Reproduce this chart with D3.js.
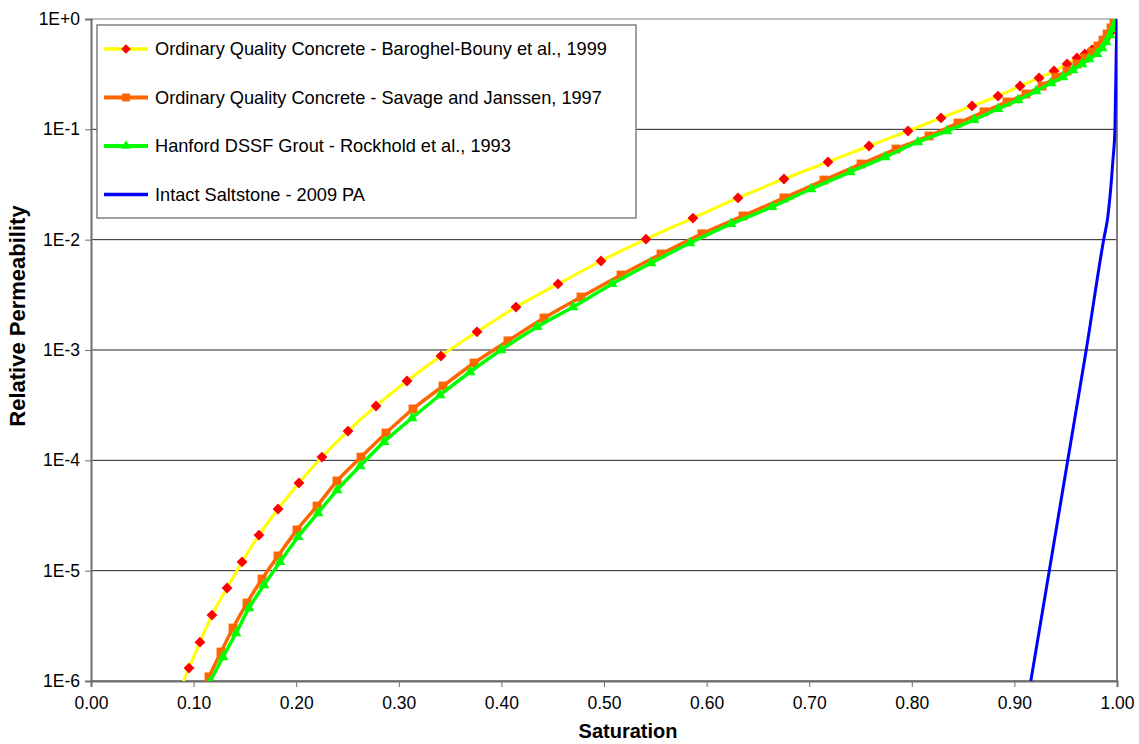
<!DOCTYPE html>
<html>
<head>
<meta charset="utf-8">
<script src="https://cdn.jsdelivr.net/npm/d3@7"></script>
<style>
  body { margin: 0; background: #fff; }
  text { font-family: "Liberation Sans", Arial, sans-serif; }
</style>
</head>
<body>
<div id="chart"></div>
<script>
// Saturation / relative permeability pairs
const baroghelS = [0.0848, 0.0955, 0.1062, 0.1179, 0.1326, 0.1472, 0.1637, 0.1823, 0.2027, 0.2251, 0.2505, 0.2778, 0.3080, 0.3411, 0.3762, 0.4142, 0.4552, 0.4971, 0.5409, 0.5867, 0.6306, 0.6754, 0.7183, 0.7583, 0.7963, 0.8285, 0.8587, 0.8840, 0.9055, 0.9240, 0.9386, 0.9513, 0.9610, 0.9688, 0.9756, 0.9805, 0.9844, 0.9883, 0.9912, 0.9942, 0.9961, 0.9981, 1.0];
const baroghelK = [7.6e-7, 1.31e-6, 2.25e-6, 3.96e-6, 6.97e-6, 1.20e-5, 2.10e-5, 3.62e-5, 6.23e-5, 1.07e-4, 1.84e-4, 3.11e-4, 5.24e-4, 8.82e-4, 1.46e-3, 2.45e-3, 3.97e-3, 6.41e-3, 1.01e-2, 1.57e-2, 2.39e-2, 3.55e-2, 5.06e-2, 7.06e-2, 9.66e-2, 0.127, 0.163, 0.200, 0.247, 0.292, 0.338, 0.391, 0.443, 0.482, 0.524, 0.557, 0.593, 0.645, 0.701, 0.762, 0.829, 0.901, 1.0];

const savageS = [0.1040, 0.1150, 0.1267, 0.1384, 0.1520, 0.1667, 0.1823, 0.2008, 0.2203, 0.2398, 0.2632, 0.2875, 0.3138, 0.3431, 0.3733, 0.4064, 0.4415, 0.4776, 0.5166, 0.5556, 0.5955, 0.6355, 0.6754, 0.7144, 0.7505, 0.7846, 0.8168, 0.8450, 0.8704, 0.8928, 0.9113, 0.9269, 0.9405, 0.9513, 0.9610, 0.9688, 0.9756, 0.9815, 0.9864, 0.9903, 0.9942, 0.9971, 1.0];
const savageK = [6.5e-7, 1.09e-6, 1.83e-6, 3.02e-6, 5.09e-6, 8.40e-6, 1.36e-5, 2.34e-5, 3.85e-5, 6.50e-5, 1.07e-4, 1.77e-4, 2.92e-4, 4.72e-4, 7.62e-4, 1.21e-3, 1.95e-3, 3.02e-3, 4.78e-3, 7.41e-3, 1.13e-2, 1.64e-2, 2.39e-2, 3.47e-2, 4.85e-2, 6.63e-2, 8.71e-2, 0.114, 0.144, 0.177, 0.209, 0.247, 0.298, 0.338, 0.391, 0.443, 0.502, 0.569, 0.645, 0.731, 0.829, 0.920, 1.0];

const hanfordS = [0.1050, 0.1160, 0.1287, 0.1413, 0.1540, 0.1686, 0.1842, 0.2018, 0.2212, 0.2398, 0.2622, 0.2856, 0.3129, 0.3402, 0.3694, 0.3996, 0.4347, 0.4698, 0.5078, 0.5458, 0.5838, 0.6238, 0.6637, 0.7018, 0.7398, 0.7739, 0.8060, 0.8343, 0.8606, 0.8840, 0.9035, 0.9211, 0.9357, 0.9474, 0.9571, 0.9659, 0.9727, 0.9805, 0.9854, 0.9893, 0.9932, 0.9961, 0.9981, 1.0];
const hanfordK = [5.8e-7, 9.8e-7, 1.65e-6, 2.72e-6, 4.59e-6, 7.41e-6, 1.20e-5, 2.02e-5, 3.33e-5, 5.38e-5, 8.88e-5, 1.47e-4, 2.42e-4, 3.91e-4, 6.32e-4, 1.0e-3, 1.62e-3, 2.45e-3, 3.97e-3, 6.14e-3, 9.33e-3, 1.39e-2, 1.98e-2, 2.88e-2, 4.10e-2, 5.61e-2, 7.68e-2, 9.66e-2, 0.122, 0.153, 0.184, 0.222, 0.263, 0.298, 0.345, 0.391, 0.434, 0.482, 0.546, 0.619, 0.716, 0.812, 0.901, 1.0];

const saltstoneS = [0.916, 0.934, 0.952, 0.970, 0.987, 0.991, 0.996, 0.998, 0.9993, 1.0];
const saltstoneK = [1e-6, 1e-5, 1e-4, 1e-3, 1e-2, 1.6e-2, 5.2e-2, 0.102, 0.52, 1.0];

const seriesNames = [
  "Ordinary Quality Concrete - Baroghel-Bouny et al., 1999",
  "Ordinary Quality Concrete - Savage and Janssen, 1997",
  "Hanford DSSF Grout - Rockhold et al., 1993",
  "Intact Saltstone - 2009 PA"
];

const yTicks = [1, 1e-1, 1e-2, 1e-3, 1e-4, 1e-5, 1e-6];
const yTickLabels = ["1E+0", "1E-1", "1E-2", "1E-3", "1E-4", "1E-5", "1E-6"];
const xTicks = [0, 0.1, 0.2, 0.3, 0.4, 0.5, 0.6, 0.7, 0.8, 0.9, 1.0];

const margin = {top: 19, right: 22, bottom: 63, left: 91},
    width = 1139 - margin.left - margin.right,
    height = 744 - margin.top - margin.bottom;

const svg = d3.select("#chart").append("svg")
    .attr("width", 1139)
    .attr("height", 744)
  .append("g")
    .attr("transform", `translate(${margin.left},${margin.top})`);

const x = d3.scaleLinear().domain([0, 1]).range([0, width]);
const y = d3.scaleLog().domain([1e-6, 1]).range([height, 0]);

// horizontal gridlines at every decade
svg.selectAll(".grid")
    .data(yTicks)
  .enter().append("line")
    .attr("x1", 0).attr("x2", width)
    .attr("y1", d => y(d)).attr("y2", d => y(d))
    .attr("stroke", d => d === 1 ? "#808080" : "#222")
    .attr("stroke-width", 1);

// right border of plot area
svg.append("line")
    .attr("x1", width).attr("x2", width)
    .attr("y1", 0).attr("y2", height)
    .attr("stroke", "#808080").attr("stroke-width", 2);

// axes
const yAxis = svg.append("g")
    .call(d3.axisLeft(y).tickValues(yTicks).tickFormat((d, i) => yTickLabels[i]).tickSizeOuter(0).tickSize(6).tickPadding(5));
const xAxis = svg.append("g")
    .attr("transform", `translate(0,${height})`)
    .call(d3.axisBottom(x).tickValues(xTicks).tickFormat(d3.format(".2f")).tickSizeOuter(0).tickSize(6).tickPadding(10));

[yAxis, xAxis].forEach(ax => {
  ax.select(".domain").attr("stroke", "#6e6e6e").attr("stroke-width", 2);
  ax.selectAll(".tick line").attr("stroke", "#6e6e6e");
  ax.selectAll(".tick text").attr("font-size", 17.5).attr("fill", "#000")
    .style("font-family", "'Liberation Sans', Arial, sans-serif");
});

svg.append("text")
    .attr("x", 537).attr("y", height + 57)
    .attr("text-anchor", "middle")
    .attr("font-size", 20).attr("font-weight", "bold")
    .text("Saturation");

svg.append("text")
    .attr("transform", `translate(${-66},${297}) rotate(-90)`)
    .attr("text-anchor", "middle")
    .attr("font-size", 22).attr("font-weight", "bold")
    .text("Relative Permeability");

svg.append("clipPath").attr("id", "plot-clip")
  .append("rect").attr("x", 0).attr("y", 0).attr("width", width).attr("height", height);

const series = [
  {name: seriesNames[0], s: baroghelS, k: baroghelK, line: "#ffff00", lw: 3, mark: "#ff0000", sym: d3.symbolDiamond2, size: 75},
  {name: seriesNames[1], s: savageS, k: savageK, line: "#ff6600", lw: 3.5, mark: "#ff6600", sym: d3.symbolSquare2, size: 100},
  {name: seriesNames[2], s: hanfordS, k: hanfordK, line: "#00ff00", lw: 3.5, mark: "#00ff00", sym: d3.symbolTriangle2, size: 85},
  {name: seriesNames[3], s: saltstoneS, k: saltstoneK, line: "#0000ff", lw: 3, mark: null}
];

const line = d3.line().x(d => x(d[0])).y(d => y(d[1])).curve(d3.curveMonotoneX);
const plot = svg.append("g").attr("clip-path", "url(#plot-clip)");

series.forEach(sr => {
  const pts = sr.s.map((v, i) => [v, sr.k[i]]);
  plot.append("path")
      .datum(pts)
      .attr("fill", "none")
      .attr("stroke", sr.line)
      .attr("stroke-width", sr.lw)
      .attr("stroke-linejoin", "round")
      .attr("d", line);
  if (sr.mark) {
    plot.selectAll(null)
        .data(pts)
      .enter().append("path")
        .attr("transform", d => `translate(${x(d[0])},${y(d[1])})`)
        .attr("d", d3.symbol().type(sr.sym).size(sr.size))
        .attr("fill", sr.mark);
  }
});

// legend
const legend = svg.append("g").attr("transform", `translate(${97 - margin.left},${25 - margin.top})`);
legend.append("rect")
    .attr("width", 539).attr("height", 193)
    .attr("fill", "#fff").attr("stroke", "#808080").attr("stroke-width", 1.5);

series.forEach((sr, i) => {
  const g = legend.append("g").attr("transform", `translate(0,${24 + i * 48.5})`);
  g.append("line")
      .attr("x1", 7).attr("x2", 51)
      .attr("stroke", sr.line).attr("stroke-width", sr.lw + 0.5);
  if (sr.mark) {
    g.append("path")
        .attr("transform", "translate(29,0)")
        .attr("d", d3.symbol().type(sr.sym).size(sr.size * 0.8))
        .attr("fill", sr.mark);
  }
  g.append("text")
      .attr("x", 58).attr("dy", "0.35em")
      .attr("font-size", 18.2)
      .text(sr.name);
});
</script>
</body>
</html>
